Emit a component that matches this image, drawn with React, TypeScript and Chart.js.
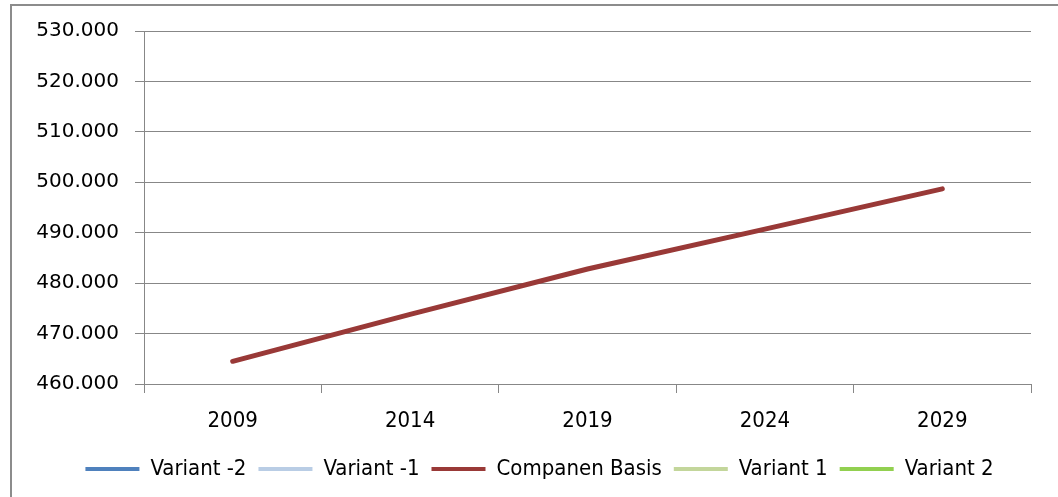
import React, { useEffect, useRef } from "react";
import { Chart, registerables } from "chart.js";

Chart.register(...registerables);

const categories: string[] = ["2009", "2014", "2019", "2024", "2029"];
const variantMin2: (number | null)[] = [null, null, null, null, null];
const variantMin1: (number | null)[] = [null, null, null, null, null];
const companenBasis: number[] = [464500, 473800, 482800, 490700, 498700];
const variantPlus1: (number | null)[] = [null, null, null, null, null];
const variantPlus2: (number | null)[] = [null, null, null, null, null];

const seriesNames: string[] = ["Variant -2", "Variant -1", "Companen Basis", "Variant 1", "Variant 2"];
const seriesColors: string[] = ["#4f81bd", "#b9cde5", "#993937", "#c3d69b", "#92d050"];

const yMin = 460000;
const yMax = 530000;
const yStep = 10000;

function fmt(v: number): string {
  const s = Math.round(v).toString();
  return s.replace(/\B(?=(\d{3})+(?!\d))/g, ".");
}

const legendShift = {
  id: "legendShift",
  afterLayout(chart: any) {
    const lg = chart.legend;
    if (lg) {
      lg.left = 48;
      lg.right = 1031;
      lg.width = 1031 - 48;
    }
  },
};

export default function App() {
  const ref = useRef<HTMLCanvasElement | null>(null);

  useEffect(() => {
    if (!ref.current) return;
    const seriesData = [variantMin2, variantMin1, companenBasis, variantPlus1, variantPlus2];
    const condensed = '"DejaVu Sans Condensed", "DejaVu Sans", sans-serif';
    const chart = new Chart(ref.current, {
      type: "line",
      data: {
        labels: categories,
        datasets: seriesData.map((d, i) => ({
          label: seriesNames[i],
          data: d,
          borderColor: seriesColors[i],
          backgroundColor: seriesColors[i],
          borderWidth: 5,
          pointRadius: 0,
          tension: 0,
          borderCapStyle: "round" as const,
          fill: false,
        })),
      },
      plugins: [legendShift],
      options: {
        responsive: false,
        animation: false,
        layout: { padding: { top: 31, left: 0, right: 27, bottom: 7 } },
        plugins: {
          legend: {
            position: "bottom",
            labels: {
              boxWidth: 54,
              boxHeight: 4,
              padding: 12,
              color: "#000",
              font: { family: condensed, size: 22 },
              generateLabels: (c: any) =>
                c.data.datasets.map((ds: any, i: number) => ({
                  text: ds.label,
                  fillStyle: ds.borderColor,
                  strokeStyle: ds.borderColor,
                  lineWidth: 0,
                  hidden: false,
                  datasetIndex: i,
                })),
            },
          },
          tooltip: { enabled: false },
        },
        scales: {
          x: {
            offset: true,
            grid: {
              offset: true,
              drawOnChartArea: false,
              drawTicks: true,
              tickLength: 9,
              color: "#878787",
              lineWidth: 1,
            },
            border: { color: "#878787", width: 1 },
            ticks: {
              color: "#000",
              padding: 15,
              maxRotation: 0,
              font: { family: condensed, size: 22 },
            },
            afterFit: (s: any) => {
              s.height = 62;
            },
          },
          y: {
            min: yMin,
            max: yMax,
            grid: {
              color: "#878787",
              lineWidth: 1,
              drawTicks: true,
              tickLength: 9,
            },
            border: { color: "#878787", width: 1 },
            ticks: {
              stepSize: yStep,
              color: "#000",
              padding: 16,
              font: { family: '"DejaVu Sans", sans-serif', size: 20 },
              callback: (v: any) => fmt(Number(v)),
            },
            afterFit: (s: any) => {
              s.width = 144;
            },
          },
        },
      },
    });
    return () => chart.destroy();
  }, []);

  return (
    <div style={{ position: "absolute", left: 0, top: 0, width: 1058, height: 497, overflow: "hidden", background: "#fff" }}>
      <div
        style={{
          position: "absolute",
          left: 10,
          top: 4,
          width: 1200,
          height: 700,
          borderLeft: "2px solid #8c8c8c",
          borderTop: "2px solid #8c8c8c",
        }}
      />
      <canvas ref={ref} width={1058} height={497} style={{ position: "absolute", left: 0, top: 0, width: 1058, height: 497 }} />
    </div>
  );
}
